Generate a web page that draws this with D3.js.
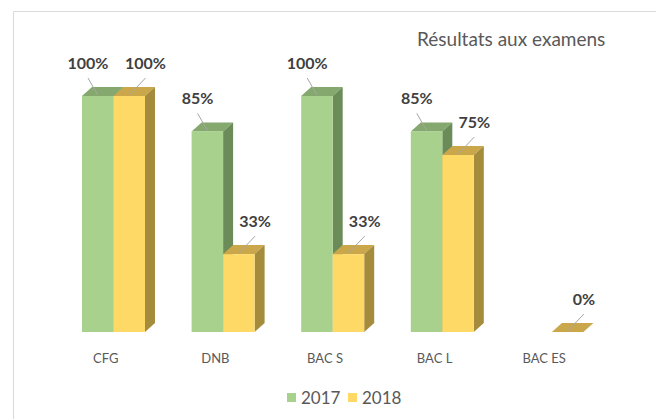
<!DOCTYPE html>
<html>
<head>
<meta charset="utf-8">
<script src="https://cdn.jsdelivr.net/npm/d3@7"></script>
<style>
  body { margin: 0; background: #fff; }
  svg { display: block; font-family: Lato, "Open Sans", sans-serif; }
</style>
</head>
<body>
<svg id="chart"></svg>
<script>
const categories = ['CFG', 'DNB', 'BAC S', 'BAC L', 'BAC ES'];
const seriesNames = ['2017', '2018'];
const values2017 = [1, 0.85, 1, 0.85, null];
const values2018 = [1, 0.33, 0.33, 0.75, 0];
const title = 'Résultats aux examens';

const width = 656;
const height = 419;

// front / top / side shades
const colors = {
  '2017': { front: '#A9D18E', top: '#84A86E', side: '#6B8B58' },
  '2018': { front: '#FFD966', top: '#C9A74A', side: '#A58B3C' }
};

const svg = d3.select('#chart')
  .attr('width', width)
  .attr('height', height);

// chart area border (top + left only visible)
svg.append('path')
  .attr('d', `M13.5,${height} V11.5 H${width}`)
  .attr('fill', 'none')
  .attr('stroke', '#d9d9d9');

svg.append('text')
  .attr('x', 417)
  .attr('y', 46)
  .attr('fill', '#595959')
  .style('font-size', '19px')
  .text(title);

const x = d3.scaleBand().domain(categories).range([51, 599]);
const xs = d3.scaleBand().domain(seriesNames).range([31, 94]);
const y = d3.scaleLinear().domain([0, 1]).range([332, 96]);

const dx = 10, dy = -9;

const bars = [];
seriesNames.forEach((s, si) => {
  const vals = si === 0 ? values2017 : values2018;
  categories.forEach((c, i) => {
    if (vals[i] == null) return;
    bars.push({ series: s, cat: c, value: vals[i] });
  });
});

const g = svg.append('g');

bars.forEach(d => {
  const x0 = x(d.cat) + xs(d.series);
  const w = xs.bandwidth();
  const y0 = y(0);
  const y1 = y(d.value);
  const c = colors[d.series];
  const bar = g.append('g');
  // top
  bar.append('path')
    .attr('d', `M${x0},${y1} L${x0 + dx},${y1 + dy} L${x0 + w + dx},${y1 + dy} L${x0 + w},${y1} Z`)
    .attr('fill', c.top);
  if (d.value > 0) {
    // side
    bar.append('path')
      .attr('d', `M${x0 + w},${y1} L${x0 + w + dx},${y1 + dy} L${x0 + w + dx},${y0 + dy} L${x0 + w},${y0} Z`)
      .attr('fill', c.side);
    // front
    bar.append('rect')
      .attr('x', x0)
      .attr('y', y1)
      .attr('width', w)
      .attr('height', y0 - y1)
      .attr('fill', c.front);
  }
});

// data labels with leader lines
const fmt = d3.format('.0%');
bars.forEach(d => {
  const x0 = x(d.cat) + xs(d.series);
  const w = xs.bandwidth();
  const y1 = y(d.value);
  const lx = d.series === '2017' ? x0 + 6 : x0 + 32;
  const ly = y1 - 27;
  g.append('line')
    .attr('x1', lx)
    .attr('y1', ly + 9)
    .attr('x2', x0 + w / 2)
    .attr('y2', y1 - 1)
    .attr('stroke', '#a6a6a6')
    .attr('stroke-width', 1);
  g.append('text')
    .attr('x', lx)
    .attr('y', ly)
    .attr('text-anchor', 'middle')
    .attr('fill', '#404040')
    .style('font-size', '16px')
    .style('font-weight', 'bold')
    .text(fmt(d.value));
});

// category labels
svg.append('g')
  .selectAll('text')
  .data(categories)
  .join('text')
  .attr('x', d => x(d) + x.bandwidth() / 2)
  .attr('y', 363)
  .attr('text-anchor', 'middle')
  .attr('fill', '#595959')
  .style('font-size', '13px')
  .text(d => d);

// legend
const legend = svg.append('g')
  .selectAll('g')
  .data(seriesNames)
  .join('g')
  .attr('transform', (d, i) => `translate(${287 + i * 61},0)`);

legend.append('rect')
  .attr('x', 0)
  .attr('y', 393)
  .attr('width', 9)
  .attr('height', 9)
  .attr('fill', d => colors[d].front);

legend.append('text')
  .attr('x', 14)
  .attr('y', 404)
  .attr('fill', '#595959')
  .style('font-size', '17px')
  .text(d => d);
</script>
</body>
</html>
